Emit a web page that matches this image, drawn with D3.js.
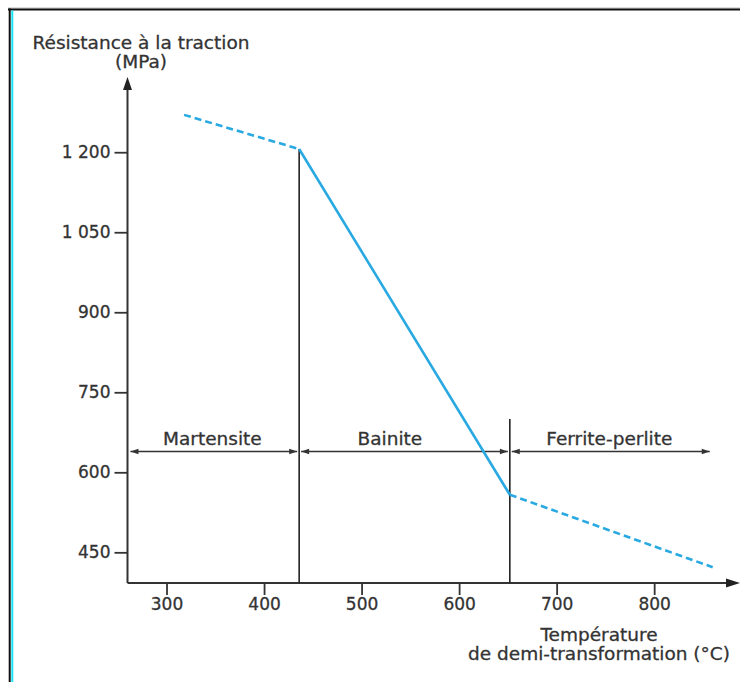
<!DOCTYPE html>
<html>
<head>
<meta charset="utf-8">
<script src="https://cdn.jsdelivr.net/npm/d3@7"></script>
<style>
  html, body { margin: 0; padding: 0; background: #fff; }
  svg { display: block; }
  text { font-family: "DejaVu Sans", sans-serif; fill: #333; stroke: #333; stroke-width: 0.3px; }
</style>
</head>
<body>
<script>
// ---- data ----
const curveTemps = [318, 436, 652, 860];
const curveMPa = [1270, 1206, 558, 422];
const segmentStyles = ["dashed", "solid", "dashed"];

const xTicks = [300, 400, 500, 600, 700, 800];
const yTicks = [450, 600, 750, 900, 1050, 1200];
const yTickLabels = ["450", "600", "750", "900", "1 050", "1 200"];

const phaseNames = ["Martensite", "Bainite", "Ferrite-perlite"];
const phaseStart = [263, 438, 654];
const phaseEnd = [434, 650, 857];
const phaseLabelTemp = [347, 529, 754];
const phaseArrowMPa = 639;

const boundaryTemps = [436, 652];
const boundaryTops = [1206, 700];

const yTitle = ["Résistance à la traction", "(MPa)"];
const xTitle = ["Température", "de demi-transformation (°C)"];

// ---- layout ----
const W = 740, H = 682;
const svg = d3.select("body").append("svg").attr("width", W).attr("height", H);

const x = d3.scaleLinear().domain([260, 888]).range([127.5, 740]);
const y = d3.scaleLinear().domain([392.5, 1341]).range([583, 77]);

// frame
svg.append("line").attr("x1", 8).attr("x2", W).attr("y1", 8).attr("y2", 8)
  .attr("stroke", "#bbb").attr("stroke-width", 1);
svg.append("line").attr("x1", 8).attr("x2", W).attr("y1", 9.5).attr("y2", 9.5)
  .attr("stroke", "#111").attr("stroke-width", 2);
svg.append("line").attr("x1", 9.7).attr("x2", 9.7).attr("y1", 8.5).attr("y2", H)
  .attr("stroke", "#111").attr("stroke-width", 2);
svg.append("line").attr("x1", 12.3).attr("x2", 12.3).attr("y1", 10.5).attr("y2", H)
  .attr("stroke", "#19e3f5").attr("stroke-width", 2);

// axes
const axisColor = "#333";
const gx = svg.append("g").attr("transform", `translate(0,${y.range()[0]})`)
  .call(d3.axisBottom(x).tickValues(xTicks).tickSize(12).tickPadding(3).tickSizeOuter(0));
const gy = svg.append("g").attr("transform", `translate(${x.range()[0]},0)`)
  .call(d3.axisLeft(y).tickValues(yTicks).tickFormat((d, i) => yTickLabels[i])
    .tickSize(13).tickPadding(4).tickSizeOuter(0));
[gx, gy].forEach(g => {
  g.select(".domain").remove();
  g.selectAll(".tick line").attr("stroke", axisColor).attr("stroke-width", 1.8);
  g.selectAll(".tick text").attr("font-family", "DejaVu Sans").attr("font-size", 17).attr("fill", "#333");
});

const x0 = x.range()[0], y0 = y.range()[0];
const xEnd = x.range()[1], yEnd = y.range()[1];
// axis lines with arrowheads
svg.append("path")
  .attr("d", `M${x0},${y0}H${xEnd - 10}`)
  .attr("stroke", axisColor).attr("stroke-width", 2).attr("fill", "none");
svg.append("path")
  .attr("d", `M${x0},${y0}V${yEnd + 10}`)
  .attr("stroke", axisColor).attr("stroke-width", 2).attr("fill", "none");
svg.append("path")
  .attr("d", `M${xEnd},${y0}L${xEnd - 14},${y0 - 4.5}L${xEnd - 14},${y0 + 4.5}Z`)
  .attr("fill", "#222");
svg.append("path")
  .attr("d", `M${x0},${yEnd}L${x0 - 4.5},${yEnd + 13}L${x0 + 4.5},${yEnd + 13}Z`)
  .attr("fill", "#222");

// boundaries
svg.selectAll("line.boundary").data(boundaryTemps).enter().append("line")
  .attr("class", "boundary")
  .attr("x1", d => x(d)).attr("x2", d => x(d))
  .attr("y1", y0).attr("y2", (d, i) => y(boundaryTops[i]))
  .attr("stroke", "#222").attr("stroke-width", 1.6);

// phase arrows
const ay = y(phaseArrowMPa);
phaseNames.forEach((name, i) => {
  const xa = x(phaseStart[i]), xb = x(phaseEnd[i]);
  svg.append("line").attr("x1", xa).attr("x2", xb).attr("y1", ay).attr("y2", ay)
    .attr("stroke", "#333").attr("stroke-width", 1.5);
  svg.append("path").attr("d", `M${xa},${ay}L${xa + 8},${ay - 2.8}L${xa + 8},${ay + 2.8}Z`).attr("fill", "#333");
  svg.append("path").attr("d", `M${xb},${ay}L${xb - 8},${ay - 2.8}L${xb - 8},${ay + 2.8}Z`).attr("fill", "#333");
  svg.append("text").attr("x", x(phaseLabelTemp[i])).attr("y", ay - 6.5)
    .attr("text-anchor", "middle").attr("font-size", 18.5).text(name);
});

// curve
const lineColor = "#29a9e1";
for (let i = 0; i < segmentStyles.length; i++) {
  svg.append("line")
    .attr("x1", x(curveTemps[i])).attr("y1", y(curveMPa[i]))
    .attr("x2", x(curveTemps[i + 1])).attr("y2", y(curveMPa[i + 1]))
    .attr("stroke", lineColor).attr("stroke-width", 2.6)
    .attr("stroke-dasharray", segmentStyles[i] === "dashed" ? "7,4" : null);
}

// titles
svg.append("text").attr("x", 141).attr("y", 49).attr("text-anchor", "middle")
  .attr("font-size", 18.5).text(yTitle[0]);
svg.append("text").attr("x", 141).attr("y", 68).attr("text-anchor", "middle")
  .attr("font-size", 18.5).text(yTitle[1]);
svg.append("text").attr("x", 599).attr("y", 640.5).attr("text-anchor", "middle")
  .attr("font-size", 18.5).text(xTitle[0]);
svg.append("text").attr("x", 599).attr("y", 660).attr("text-anchor", "middle")
  .attr("font-size", 18.5).text(xTitle[1]);
</script>
</body>
</html>
